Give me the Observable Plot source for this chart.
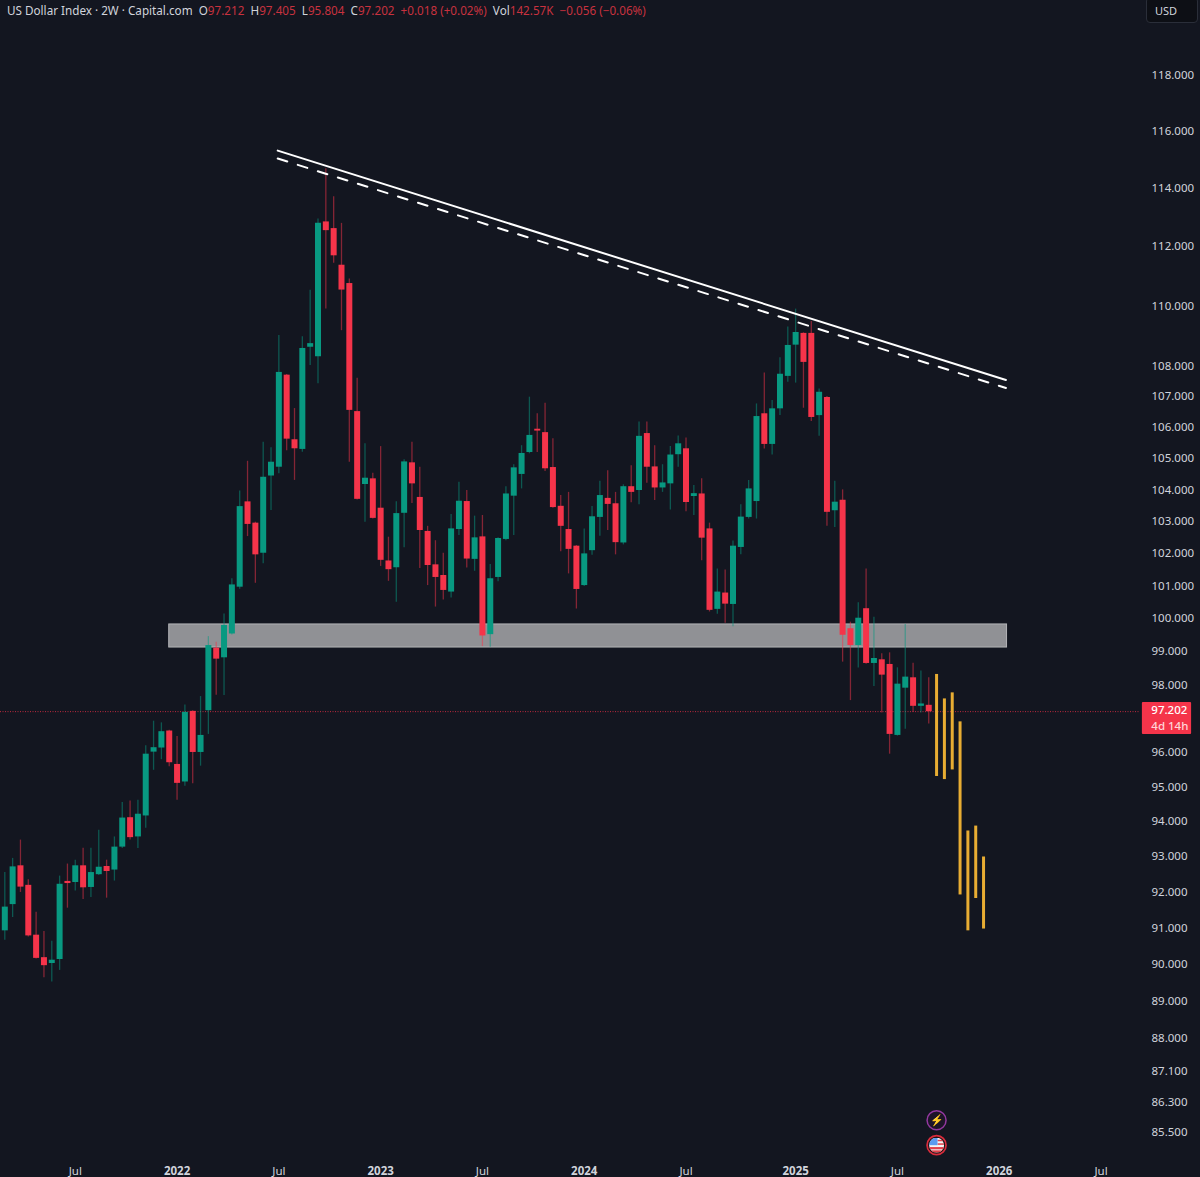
<!DOCTYPE html>
<html>
<head>
<meta charset="utf-8">
<script src="https://cdn.jsdelivr.net/npm/d3@7"></script>
<script src="https://cdn.jsdelivr.net/npm/@observablehq/plot@0.6"></script>
<style>
html,body{margin:0;padding:0;background:#131620;}
#wrap{position:relative;width:1200px;height:1177px;overflow:hidden;font-family:"Noto Sans",sans-serif;}
#head{position:absolute;left:7px;top:2px;font-size:11.7px;line-height:16px;color:#d1d4dc;white-space:pre;}
#head .r{color:#c8323f;}
#unit{position:absolute;left:1146px;top:-3px;width:52px;height:26px;box-sizing:border-box;border:1px solid #2a2e39;border-radius:4px;background:#0d0f15;color:#d1d4dc;font-size:11px;line-height:26px;padding-left:8px;}
svg{display:block;}
</style>
</head>
<body>
<div id="wrap">
<div id="chart"></div>
<div id="head">US Dollar Index · 2W · Capital.com  O<span class="r">97.212</span>  H<span class="r">97.405</span>  L<span class="r">95.804</span>  C<span class="r">97.202</span>  <span class="r">+0.018 (+0.02%)</span>  Vol<span class="r">142.57K</span>  <span class="r">−0.056 (−0.06%)</span></div>
<div id="unit">USD</div>
</div>
<script>
const opens = [90.92,91.65,92.74,92.19,90.80,90.18,90.02,90.13,92.30,92.27,92.74,92.13,92.49,92.72,92.62,93.27,94.11,93.56,94.16,96.01,
96.13,96.63,95.65,95.14,97.21,96.00,97.23,99.10,98.81,99.53,100.96,103.62,102.95,102.01,104.44,104.72,107.70,105.60,105.29,108.62,
108.31,112.85,112.62,111.37,110.75,106.51,104.17,104.35,103.42,101.77,101.56,103.26,104.86,103.76,102.69,101.65,101.32,100.81,102.75,103.63,
101.82,102.52,99.51,101.26,102.44,103.80,104.49,105.19,105.94,105.83,104.71,103.48,102.75,102.23,101.01,102.09,103.13,103.73,103.56,102.33,
104.10,103.98,105.80,104.73,104.06,104.19,105.12,105.31,103.79,103.87,102.77,100.28,100.78,100.43,102.19,103.13,103.63,106.44,105.45,106.60,
107.66,108.69,109.08,109.08,106.38,106.97,103.34,103.67,99.69,99.18,100.30,98.64,98.75,98.61,96.50,97.90,98.21,97.36,97.39];
const closes = [91.58,92.71,92.14,90.78,90.16,89.96,90.11,92.22,92.24,92.74,92.12,92.55,92.70,92.58,93.27,94.10,93.54,94.21,95.95,96.14,
96.61,95.70,95.10,97.18,96.00,96.50,99.18,98.77,99.79,101.03,103.47,102.91,101.96,104.40,104.88,107.79,105.62,105.31,108.58,108.74,
112.80,112.55,111.69,110.53,106.55,103.70,104.37,103.10,101.79,101.50,103.25,104.89,104.19,102.72,101.63,101.26,100.86,102.77,103.64,101.83,
102.49,99.47,101.22,102.47,103.87,104.70,105.16,105.74,105.88,104.67,103.44,102.85,102.13,100.89,101.99,103.15,103.82,103.54,102.34,104.10,
103.92,105.71,104.72,104.06,104.22,105.11,105.47,103.60,103.88,102.48,100.25,100.81,100.44,102.23,103.14,104.03,106.35,105.45,106.60,107.73,
108.68,109.11,108.12,106.32,107.14,103.29,103.61,99.49,99.18,100.01,98.64,98.79,98.29,96.53,98.02,98.23,97.36,97.43,97.20];
const highs = [92.55,92.95,93.47,92.35,91.44,90.90,90.63,92.45,92.79,92.90,93.24,93.24,93.75,92.90,93.56,94.55,94.59,94.61,96.20,96.92,
96.87,96.65,96.47,97.40,97.23,97.65,99.45,99.28,100.14,101.22,103.96,104.91,102.98,105.52,105.34,109.01,107.72,106.61,108.97,110.52,
112.95,114.69,113.72,112.80,110.90,107.60,105.47,104.53,105.38,102.51,103.62,104.96,105.52,104.72,102.85,102.40,102.01,103.22,104.24,103.98,
103.17,103.19,101.66,102.49,104.10,104.80,105.41,106.98,106.44,106.78,105.63,103.82,103.92,102.25,102.77,103.47,104.27,104.61,103.92,104.16,
104.77,106.17,106.17,105.41,104.80,105.38,105.72,105.66,104.14,104.35,102.95,101.52,101.49,102.39,103.53,104.30,106.76,107.77,106.87,108.27,
109.29,109.89,109.10,109.48,107.25,107.00,104.27,104.00,99.89,100.48,101.52,100.04,98.93,98.96,98.51,99.82,98.65,98.41,98.21];
const lows = [90.66,91.29,91.99,90.75,90.14,89.63,89.51,89.83,91.55,92.03,91.79,91.85,92.47,91.83,92.31,93.23,93.47,93.23,93.81,95.48,
95.79,95.58,94.61,95.02,95.09,95.60,96.53,97.69,97.68,99.50,100.90,102.53,101.08,101.68,103.35,104.51,105.25,104.30,105.20,108.02,
107.42,109.89,111.44,109.17,104.88,103.68,102.98,103.08,101.60,101.14,100.50,102.18,103.57,101.54,101.01,100.35,100.57,100.63,102.56,101.55,
101.45,99.15,99.13,101.13,102.40,102.56,104.03,105.15,105.19,104.58,103.42,102.06,101.37,100.29,100.98,101.95,102.54,102.72,101.96,102.27,
103.59,103.53,104.21,103.66,103.92,103.36,104.72,103.31,103.19,101.78,100.20,100.13,99.86,99.75,101.96,103.08,103.08,105.30,105.11,106.38,
107.47,107.44,106.62,106.19,105.71,102.85,102.81,98.68,97.53,98.50,98.62,97.95,97.16,95.95,96.48,96.68,97.18,97.16,96.84];

const forecastTop = [98.31,97.58,97.76,96.90,93.73,93.87,92.99];
const forecastBottom = [95.30,95.21,95.49,91.92,90.92,91.82,90.97];

const priceTicks = [118,116,114,112,110,108,107,106,105,104,103,102,101,100,99,98,96,95,94,93,92,91,90,89,88,87.1,86.3,85.5];
const julyTicks = ["2021-07-05","2022-07-04","2023-07-03","2024-07-01","2025-07-14","2026-07-13"];
const yearTicks = ["2022-01-03","2023-01-02","2024-01-01","2025-01-13","2026-01-12"];
const yearLabels = ["2022","2023","2024","2025","2026"];

const lastPrice = 97.202;
const zone = {start:"2021-12-20", end:"2026-01-26", low:99.12, high:99.82};
const lineDates = ["2022-07-02","2026-01-24"];
const solidLine = [115.33,107.54];
const dashedLine = [115.05,107.28];

const date = s => new Date(s + "T00:00:00Z");
const first = date("2021-03-01");
const barDate = i => d3.utcDay.offset(first, 14 * i);

const GREEN = "#089981", RED = "#f5344a", GOLD = "#e8ad33";
const candles = opens.map((o, i) => ({date: barDate(i), open: o, close: closes[i], high: highs[i], low: lows[i], up: closes[i] >= o}));
const forecast = forecastTop.map((t, i) => ({date: barDate(opens.length + i), top: t, bottom: forecastBottom[i]}));
const trend = lineDates.map((d, i) => ({date: date(d), solid: solidLine[i], dashed: dashedLine[i]}));
const tag = {x1: date("2026-09-25"), x2: date("2026-12-22"), y1: 96.53, y2: 97.47};
const tagTextX = date("2026-10-11");
const eventDate = barDate(opens.length);

const flag = "data:image/svg+xml;utf8," + encodeURIComponent(
'<svg xmlns="http://www.w3.org/2000/svg" viewBox="0 0 16 16"><defs><clipPath id="c"><circle cx="8" cy="8" r="8"/></clipPath></defs><g clip-path="url(#c)"><rect width="16" height="16" fill="#f4f4f4"/><rect y="10" width="16" height="2.4" fill="#e2404a"/><rect y="13.5" width="16" height="2.5" fill="#e2404a"/><rect y="6" x="9" width="7" height="1.6" fill="#e2404a"/><rect y="2.2" x="9" width="7" height="1.6" fill="#e2404a"/><rect width="9" height="8" fill="#5b9bf0"/></g></svg>');

const chart = Plot.plot({
  width: 1200, height: 1177,
  marginTop: 0, marginLeft: 0, marginRight: 60, marginBottom: 14,
  style: {background: "#131620", fontFamily: "'Noto Sans',sans-serif"},
  x: {type: "utc", domain: [first, barDate(150)], range: [4.3, 1178.8]},
  y: {type: "log", domain: [85.5, 118], range: [1132, 75]},
  marks: [
    Plot.rect([zone], {x1: d => date(d.start), x2: d => date(d.end), y1: "low", y2: "high", fill: "#909195", stroke: "#b3b4b7", strokeWidth: 1}),
    Plot.ruleY([lastPrice], {stroke: "#f5344a", strokeOpacity: 0.75, strokeDasharray: "1 1.5", strokeWidth: 1}),
    Plot.ruleX(candles, {x: "date", y1: "low", y2: "high", stroke: d => d.up ? GREEN : RED, strokeOpacity: 0.5, strokeWidth: 1.3}),
    Plot.ruleX(candles, {x: "date", y1: "open", y2: "close", stroke: d => d.up ? GREEN : RED, strokeWidth: 6}),
    Plot.ruleX(forecast, {x: "date", y1: "bottom", y2: "top", stroke: GOLD, strokeWidth: 3}),
    Plot.line(trend, {x: "date", y: "solid", stroke: "#ffffff", strokeWidth: 2}),
    Plot.line(trend, {x: "date", y: "dashed", stroke: "#ffffff", strokeWidth: 2, strokeDasharray: "10 11"}),
    Plot.rect([tag], {x1: "x1", x2: "x2", y1: "y1", y2: "y2", fill: "#f5344a", rx: 1}),
    Plot.text([{t: "97.202", y: 97.25, c: "#ffffff"}, {t: "4d 14h", y: 96.76, c: "#ffd5d9"}], {x: () => tagTextX, y: "y", text: "t", fill: "c", textAnchor: "start", fontSize: 11.5, fontWeight: 500}),
    Plot.axisY({anchor: "right", ticks: priceTicks, tickSize: 0, tickPadding: 11, tickFormat: d3.format(".3f"), color: "#d1d4dc", fontSize: 11.5, label: null}),
    Plot.axisX({anchor: "bottom", ticks: julyTicks.map(date), tickFormat: () => "Jul", tickSize: 0, tickPadding: 3, color: "#d1d4dc", fontSize: 11.5, label: null}),
    Plot.axisX({anchor: "bottom", ticks: yearTicks.map(date), tickFormat: d => yearLabels[yearTicks.indexOf(d.toISOString().slice(0,10))], tickSize: 0, tickPadding: 3, color: "#d1d4dc", fontSize: 11.5, fontWeight: 700, label: null}),
    Plot.dot([85.82], {x: () => eventDate, y: d => d, r: 9.5, fill: "#1d1528", stroke: "#93389f", strokeWidth: 1.5}),
    Plot.text([85.82], {x: () => eventDate, y: d => d, text: () => "⚡", fill: "#9b30e8", fontSize: 11}),
    Plot.dot([85.17], {x: () => eventDate, y: d => d, r: 9.5, fill: "#1d1518", stroke: "#d92c3c", strokeWidth: 1.7}),
    Plot.image([85.17], {x: () => eventDate, y: d => d, src: () => flag, width: 15, height: 15})
  ]
});
document.getElementById("chart").appendChild(chart);
</script>
</body>
</html>
